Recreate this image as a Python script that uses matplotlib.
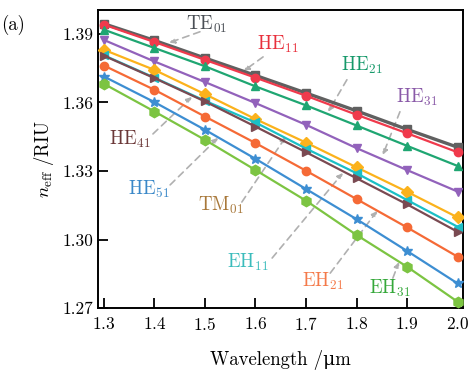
import numpy as np
import matplotlib.pyplot as plt

plt.rcParams['font.family'] = ['cmr10', 'DejaVu Serif']
plt.rcParams['mathtext.fontset'] = 'cm'
plt.rcParams['axes.formatter.use_mathtext'] = True
plt.rcParams['axes.unicode_minus'] = False

# wavelength (um)
wavelength = [1.3, 1.4, 1.5, 1.6, 1.7, 1.8, 1.9, 2.0]

# effective index of each mode
te01 = [1.3944, 1.3871, 1.3794, 1.3718, 1.3641, 1.3563, 1.3482, 1.3404]
he11 = [1.3940, 1.3864, 1.3786, 1.3708, 1.3629, 1.3546, 1.3465, 1.3382]
he21 = [1.3918, 1.3838, 1.3758, 1.3670, 1.3587, 1.3499, 1.3410, 1.3322]
he31 = [1.3873, 1.3779, 1.3689, 1.3597, 1.3502, 1.3400, 1.3304, 1.3210]
tm01 = [1.3830, 1.3742, 1.3636, 1.3527, 1.3424, 1.3316, 1.3209, 1.3097]
eh11 = [1.3806, 1.3708, 1.3607, 1.3512, 1.3398, 1.3290, 1.3173, 1.3056]
he41 = [1.3804, 1.3706, 1.3604, 1.3494, 1.3382, 1.3268, 1.3154, 1.3034]
eh21 = [1.3761, 1.3655, 1.3538, 1.3422, 1.3301, 1.3177, 1.3053, 1.2925]
he51 = [1.3713, 1.3601, 1.3480, 1.3353, 1.3221, 1.3089, 1.2950, 1.2808]
eh31 = [1.3681, 1.3560, 1.3436, 1.3304, 1.3170, 1.3020, 1.2881, 1.2728]

# (values, line colour, marker, label, label colour, text pos, arrow start, arrow end)
modes = [
    (te01, '#606060', 's', r'TE$_{01}$', '#4a4f55', (1.504, 1.3940), (1.490, 1.3909), (1.429, 1.3861)),
    (he11, '#f03a4c', 'o', r'HE$_{11}$', '#e8303c', (1.645, 1.3852), (1.615, 1.3799), (1.577, 1.3738)),
    (he21, '#1fa672', '^', r'HE$_{21}$', '#16996a', (1.811, 1.3760), (1.781, 1.3699), (1.744, 1.3559)),
    (he31, '#9262bb', 'v', r'HE$_{31}$', '#8a5aa8', (1.920, 1.3620), (1.886, 1.3559), (1.852, 1.3370)),
    (tm01, '#fbb21c', 'D', r'TM$_{01}$', '#a8783a', (1.532, 1.3151), (1.573, 1.3164), (1.660, 1.3449)),
    (eh11, '#1bbfc6', '<', r'EH$_{11}$', '#3bbcbc', (1.585, 1.2901), (1.633, 1.2919), (1.773, 1.3291)),
    (he41, '#7a4a52', '>', r'HE$_{41}$', '#6b3838', (1.351, 1.3436), (1.397, 1.3462), (1.474, 1.3624)),
    (eh21, '#f56a36', 'o', r'EH$_{21}$', '#f47a4a', (1.734, 1.2818), (1.748, 1.2853), (1.841, 1.3125)),
    (he51, '#3d8ed2', '*', r'HE$_{51}$', '#3a88c8', (1.389, 1.3221), (1.431, 1.3239), (1.526, 1.3445)),
    (eh31, '#7cc442', 'h', r'EH$_{31}$', '#35a83a', (1.866, 1.2788), (1.872, 1.2831), (1.884, 1.2901)),
]

fig = plt.figure(figsize=(4.73, 3.78), dpi=100)
ax = fig.add_axes([0.207, 0.185, 0.772, 0.789])

for vals, col, mk, lab, lcol, tpos, a0, a1 in modes:
    lw = 2.4 if lab.startswith('TE') else 1.6
    ms = 7.5 if mk in ('*', 'h') else 6
    ax.plot(wavelength, vals, color=col, marker=mk, lw=lw, ms=ms, mec=col, zorder=3)
    ax.text(tpos[0], tpos[1], lab, color=lcol, fontsize=13.5, ha='center', va='center')
    ax.annotate('', xy=a1, xytext=a0,
                arrowprops=dict(arrowstyle='-|>', color='#b0b0b0', lw=1.2,
                                linestyle=(0, (4, 3)), mutation_scale=8,
                                shrinkA=0, shrinkB=0), zorder=2)

ax.set_xlim(1.288, 2.011)
ax.set_ylim(1.27, 1.4005)
ax.set_xticks(wavelength)
ax.set_yticks([1.27, 1.30, 1.33, 1.36, 1.39])
ax.set_yticklabels(['1.27', '1.30', '1.33', '1.36', '1.39'])
ax.tick_params(direction='in', length=7, width=1.3, labelsize=12.5, colors='black')
ax.tick_params(axis='x', pad=6)
for s in ax.spines.values():
    s.set_linewidth(1.4)

ax.set_xlabel('Wavelength /\u03bcm', fontsize=13.5, labelpad=12)
ax.set_ylabel(r'$n_{\rm eff}$ /RIU', fontsize=13.5, labelpad=4)
fig.text(0.003, 0.92, '(a)', fontsize=13.5)

fig.savefig('out.png', dpi=100)
